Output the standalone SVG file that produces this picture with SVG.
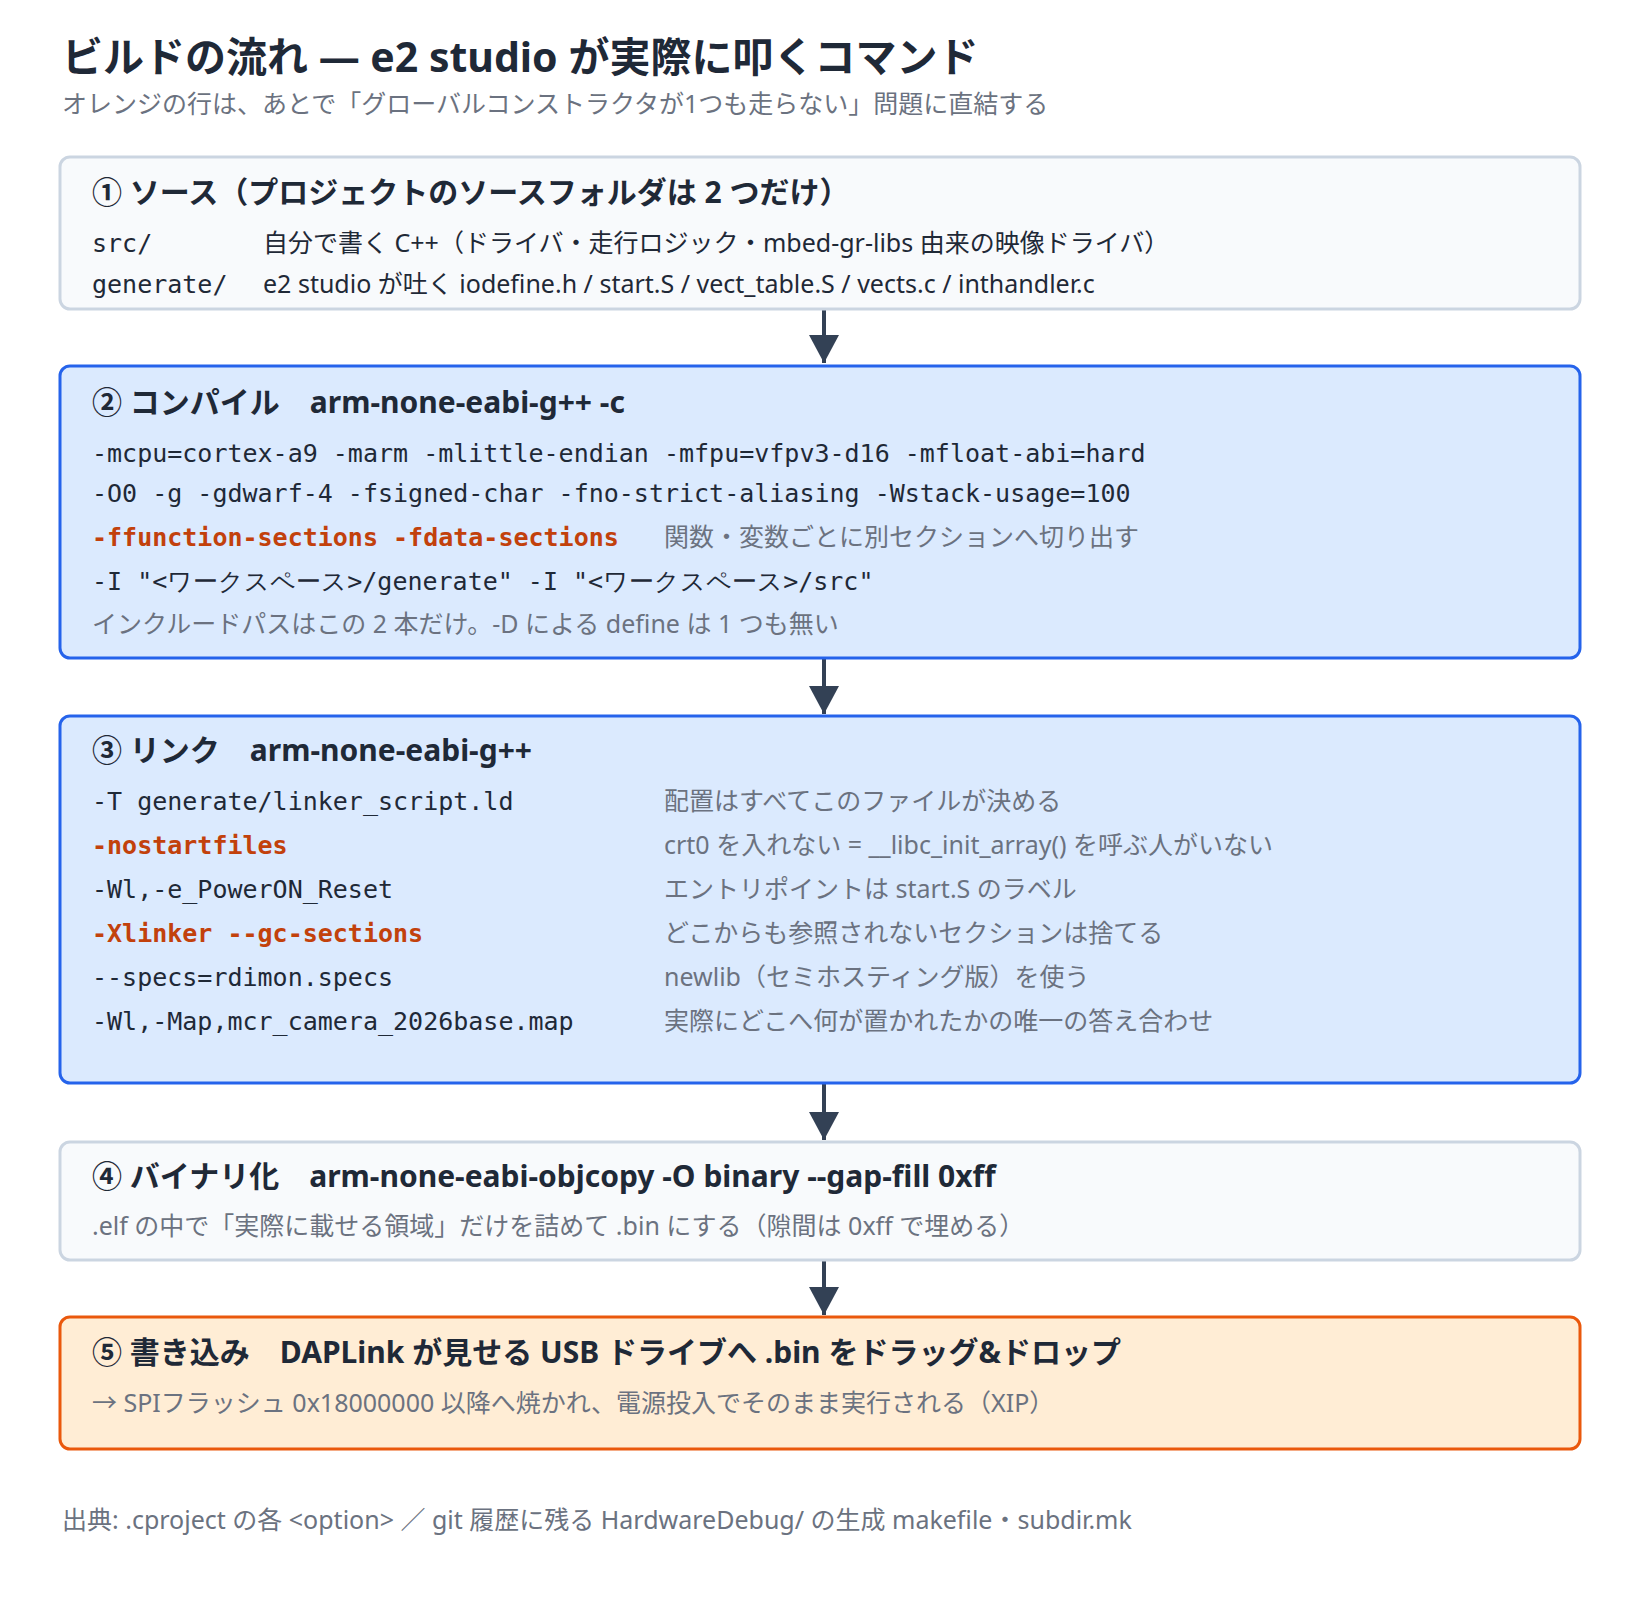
<svg xmlns="http://www.w3.org/2000/svg" width="1640" height="1600" viewBox="0 0 1640 1600">
<style>
.t{font-family:"Noto Sans","Noto Sans CJK JP",sans-serif;fill:#1f2937}
.h{font-family:"Noto Sans","Noto Sans CJK JP",sans-serif;font-weight:bold;font-size:30px;fill:#1f2937}
.b{font-family:"Noto Sans","Noto Sans CJK JP",sans-serif;font-size:25px;fill:#1f2937}
.g{font-family:"Noto Sans","Noto Sans CJK JP",sans-serif;font-size:25px;fill:#6b7280}
.m{font-family:"DejaVu Sans Mono","Liberation Mono",monospace;font-size:25px;fill:#1f2937}
.o{font-family:"DejaVu Sans Mono","Liberation Mono",monospace;font-size:25px;fill:#c2410c;font-weight:bold}
.n1{fill:#f8fafc;stroke:#cbd5e1;stroke-width:3}
.n2{fill:#dbeafe;stroke:#2563eb;stroke-width:3}
.n3{fill:#ffedd5;stroke:#ea580c;stroke-width:3}
.c{stroke:#334155;stroke-width:4;fill:none}
</style>
<defs><marker id="ar" viewBox="0 0 28 30" refX="28" refY="15" markerWidth="28" markerHeight="30" markerUnits="userSpaceOnUse" orient="auto"><path d="M0,0L28,15L0,30z" fill="#334155"/></marker></defs>
<rect width="1640" height="1600" fill="#fff"/>
<text class="t" x="62" y="72" font-size="41" font-weight="bold">ビルドの流れ — e2 studio が実際に叩くコマンド</text>
<text class="g" x="62" y="113" font-size="24.5">オレンジの行は、あとで「グローバルコンストラクタが1つも走らない」問題に直結する</text>
<g id="connectors">
<line class="c" x1="824" y1="310" x2="824" y2="363" marker-end="url(#ar)"/>
<line class="c" x1="824" y1="659" x2="824" y2="714" marker-end="url(#ar)"/>
<line class="c" x1="824" y1="1084" x2="824" y2="1140" marker-end="url(#ar)"/>
<line class="c" x1="824" y1="1260" x2="824" y2="1315" marker-end="url(#ar)"/>
</g>
<g id="n1">
<rect class="n1" x="60" y="157" width="1520" height="152" rx="10"/>
<text class="h" x="92" y="203">① ソース（プロジェクトのソースフォルダは 2 つだけ）</text>
<text class="m" x="92" y="252">src/</text><text class="b" x="263" y="252">自分で書く C++（ドライバ・走行ロジック・mbed-gr-libs 由来の映像ドライバ）</text>
<text class="m" x="92" y="293">generate/</text><text class="b" x="263" y="293">e2 studio が吐く iodefine.h / start.S / vect_table.S / vects.c / inthandler.c</text>
</g>
<g id="n2">
<rect class="n2" x="60" y="366" width="1520" height="292" rx="10"/>
<text class="h" x="92" y="413">② コンパイル　arm-none-eabi-g++ -c</text>
<text class="m" x="92" y="462">-mcpu=cortex-a9 -marm -mlittle-endian -mfpu=vfpv3-d16 -mfloat-abi=hard</text>
<text class="m" x="92" y="502">-O0 -g -gdwarf-4 -fsigned-char -fno-strict-aliasing -Wstack-usage=100</text>
<text class="o" x="92" y="546">-ffunction-sections -fdata-sections</text><text class="g" x="664" y="546">関数・変数ごとに別セクションへ切り出す</text>
<text class="m" x="92" y="590">-I "&lt;ワークスペース&gt;/generate" -I "&lt;ワークスペース&gt;/src"</text>
<text class="g" x="92" y="633">インクルードパスはこの 2 本だけ。-D による define は 1 つも無い</text>
</g>
<g id="n3">
<rect class="n2" x="60" y="716" width="1520" height="367" rx="10"/>
<text class="h" x="92" y="761">③ リンク　arm-none-eabi-g++</text>
<text class="m" x="92" y="810">-T generate/linker_script.ld</text><text class="g" x="664" y="810">配置はすべてこのファイルが決める</text>
<text class="o" x="92" y="854">-nostartfiles</text><text class="g" x="664" y="854">crt0 を入れない = __libc_init_array() を呼ぶ人がいない</text>
<text class="m" x="92" y="898">-Wl,-e_PowerON_Reset</text><text class="g" x="664" y="898">エントリポイントは start.S のラベル</text>
<text class="o" x="92" y="942">-Xlinker --gc-sections</text><text class="g" x="664" y="942">どこからも参照されないセクションは捨てる</text>
<text class="m" x="92" y="986">--specs=rdimon.specs</text><text class="g" x="664" y="986">newlib（セミホスティング版）を使う</text>
<text class="m" x="92" y="1030">-Wl,-Map,mcr_camera_2026base.map</text><text class="g" x="664" y="1030">実際にどこへ何が置かれたかの唯一の答え合わせ</text>
</g>
<g id="n4">
<rect class="n1" x="60" y="1142" width="1520" height="118" rx="10"/>
<text class="h" x="92" y="1187">④ バイナリ化　arm-none-eabi-objcopy -O binary --gap-fill 0xff</text>
<text class="g" x="92" y="1235">.elf の中で「実際に載せる領域」だけを詰めて .bin にする（隙間は 0xff で埋める）</text>
</g>
<g id="n5">
<rect class="n3" x="60" y="1317" width="1520" height="132" rx="10"/>
<text class="h" x="92" y="1363">⑤ 書き込み　DAPLink が見せる USB ドライブへ .bin をドラッグ&amp;ドロップ</text>
<text class="g" x="92" y="1412">→ SPIフラッシュ 0x18000000 以降へ焼かれ、電源投入でそのまま実行される（XIP）</text>
</g>
<text class="g" x="62" y="1529">出典: .cproject の各 &lt;option&gt; ／ git 履歴に残る HardwareDebug/ の生成 makefile・subdir.mk</text>
</svg>
